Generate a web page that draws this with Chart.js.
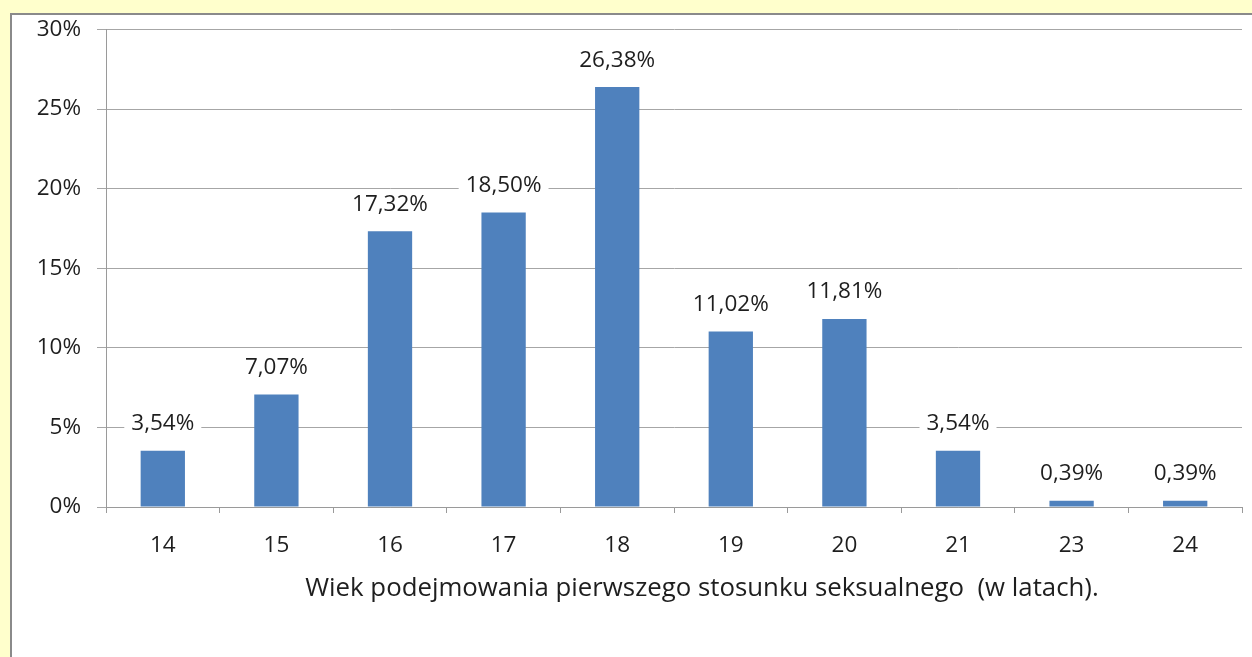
<!DOCTYPE html>
<html><head><meta charset="utf-8">
<script src="https://cdn.jsdelivr.net/npm/chart.js@4.4.0/dist/chart.umd.min.js"></script>
<style>
html,body{margin:0;padding:0;background:#FFFFCC;width:1252px;height:657px;overflow:hidden;}
#box{position:absolute;left:10px;top:13px;width:1300px;height:700px;background:#fff;border-left:2px solid #8a8a8a;border-top:2px solid #8a8a8a;}
#wrap{position:absolute;left:0;top:0;width:1252px;height:657px;}
</style></head><body>
<div id="box"></div>
<div id="wrap"><canvas id="c" width="1252" height="657"></canvas></div>
<script>
const categories = ['14','15','16','17','18','19','20','21','23','24'];
const values = [3.54, 7.07, 17.32, 18.50, 26.38, 11.02, 11.81, 3.54, 0.39, 0.39];
const axisTitle = 'Wiek podejmowania pierwszego stosunku seksualnego  (w latach).';
const FONT = '"Open Sans"';
const TXT = '#1e1e1e';

const labelPlugin = {
  id: 'barLabels',
  afterDatasetsDraw(chart) {
    const ctx = chart.ctx;
    const meta = chart.getDatasetMeta(0);
    ctx.save();
    ctx.font = '22.5px ' + FONT;
    ctx.textAlign = 'center';
    ctx.textBaseline = 'middle';
    meta.data.forEach((bar, i) => {
      const txt = values[i].toFixed(2).replace('.', ',') + '%';
      const w = ctx.measureText(txt).width;
      const cy = bar.y - 27;
      ctx.fillStyle = '#fff';
      ctx.fillRect(bar.x - w/2 - 7, cy - 13, w + 14, 26);
      ctx.fillStyle = TXT;
      ctx.fillText(txt, bar.x, cy);
    });
    ctx.restore();
  }
};
const titlePlugin = {
  id: 'xTitle',
  afterDraw(chart) {
    const ctx = chart.ctx;
    const a = chart.chartArea;
    ctx.save();
    ctx.font = '25.8px ' + FONT;
    ctx.fillStyle = TXT;
    ctx.textAlign = 'center';
    ctx.textBaseline = 'middle';
    ctx.fillText(axisTitle, (a.left + a.right)/2 + 28, 589);
    ctx.restore();
  }
};

new Chart(document.getElementById('c'), {
  type: 'bar',
  data: { labels: categories, datasets: [{ data: values, backgroundColor: '#4F81BD', categoryPercentage: 1, barPercentage: 0.39 }] },
  options: {
    responsive: false, animation: false,
    layout: { padding: { left: 0, top: 29, right: 10, bottom: 0 } },
    plugins: { legend: { display: false }, tooltip: { enabled: false } },
    scales: {
      x: {
        grid: { drawOnChartArea: false, drawTicks: true, tickLength: 6, color: '#9a9a9a', offset: true },
        border: { color: '#9a9a9a', width: 1 },
        ticks: { color: TXT, font: { family: FONT, size: 22.5 }, padding: 19, maxRotation: 0 },
        afterFit(s) { s.height = 150; }
      },
      y: {
        min: 0, max: 30,
        grid: { color: '#a6a6a6', tickLength: 9 },
        border: { color: '#9a9a9a', width: 1 },
        ticks: { stepSize: 5, color: TXT, font: { family: FONT, size: 22.5 }, padding: 16, callback: v => v + '%' },
        afterFit(s) { s.width = 106; }
      }
    }
  },
  plugins: [labelPlugin, titlePlugin]
});
</script>
</body></html>
